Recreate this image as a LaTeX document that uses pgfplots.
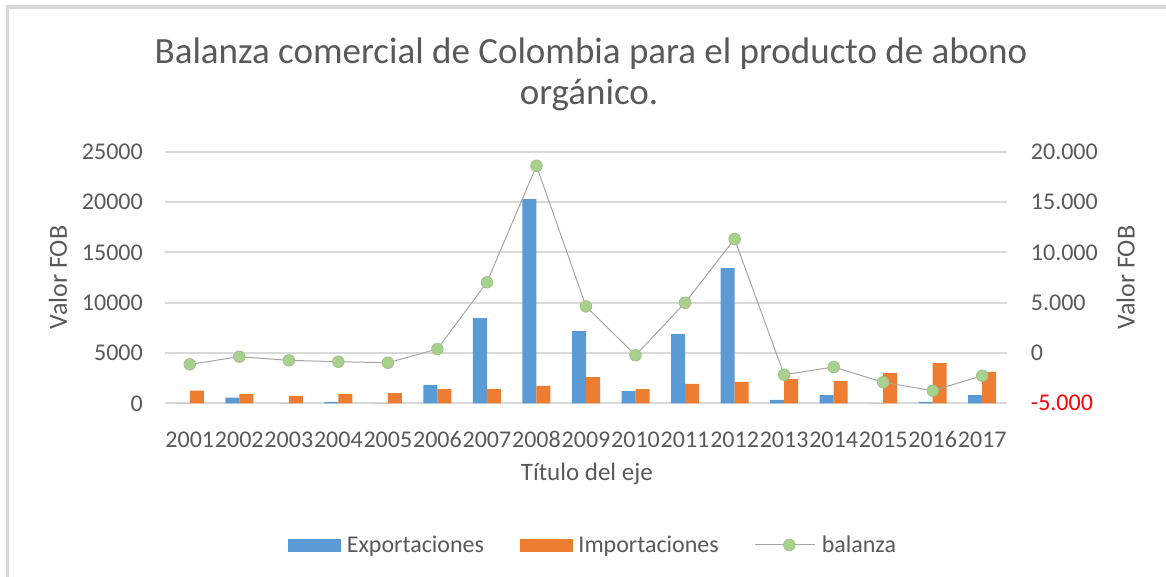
\documentclass[border=0pt]{standalone}
\usepackage{pgfplots}
\pgfplotsset{compat=1.18}
\usepackage{pgfplotstable}
\usepackage{fontspec}
\setmainfont{Carlito}

\definecolor{expc}{HTML}{5B9BD5}
\definecolor{impc}{HTML}{ED7D31}
\definecolor{balc}{HTML}{A9D18E}
\definecolor{balline}{HTML}{A5A5A5}
\definecolor{txt}{HTML}{595959}
\definecolor{gridc}{HTML}{D9D9D9}

% year index, exportaciones, importaciones, balanza
\pgfplotstableread{
idx exp imp bal
0 0 1250 -1130
1 560 920 -370
2 0 725 -730
3 130 920 -870
4 0 1020 -970
5 1820 1420 390
6 8470 1420 7020
7 20290 1720 18600
8 7180 2610 4630
9 1220 1420 -230
10 6880 1920 4990
11 13440 2120 11320
12 330 2420 -2160
13 820 2220 -1400
14 0 3010 -2910
15 130 4000 -3750
16 820 3110 -2260
}\datos

\pgfplotsset{
  base/.style={
    scale only axis, width=842pt, height=251.6pt,
    at={(165pt,173.7pt)}, anchor=south west,
    xmin=-0.5, xmax=16.5,
    scaled y ticks=false,
    axis line style={draw=none},
    tick style={draw=none},
    ticklabel style={font=\fontsize{24}{28}\selectfont, text=txt},
    label style={font=\fontsize{26}{30}\selectfont, text=txt},
  }
}

\begin{document}
\begin{tikzpicture}[x=1pt,y=1pt]
\path[use as bounding box] (0,0) rectangle (1166,577);
\draw[gridc, line width=3.5pt] (7.3,-10) -- (7.3,569.8) -- (1180,569.8);

\node[anchor=base, text=txt, font=\fontsize{37}{40}\selectfont] at (591,513.7) {Balanza comercial de Colombia para el producto de abono};
\node[anchor=base, text=txt, font=\fontsize{37}{40}\selectfont] at (589,472) {orgánico.};

\begin{axis}[base,
  ymin=0, ymax=25000,
  ybar=0pt, bar width=14pt,
  ymajorgrids, major grid style={gridc, line width=1.8pt},
  ytick={0,5000,10000,15000,20000,25000},
  yticklabels={0,5000,10000,15000,20000,25000},
  yticklabel style={anchor=east, inner sep=0pt, xshift=-22pt},
  xtick={0,...,16},
  xticklabels={2001,2002,2003,2004,2005,2006,2007,2008,2009,2010,2011,2012,2013,2014,2015,2016,2017},
  xticklabel style={anchor=north, inner sep=0pt, yshift=-23.7pt},
  xlabel={Título del eje},
  xlabel style={at={(rel axis cs:0.501,-0.3076)}, anchor=base, font=\fontsize{25}{30}\selectfont},
  ylabel={Valor FOB},
  ylabel style={at={(rel axis cs:-0.127,0.5)}, anchor=center},
]
\addplot[fill=expc, draw=none] table[x=idx, y=exp] {\datos};
\addplot[fill=impc, draw=none] table[x=idx, y=imp] {\datos};
\end{axis}

\begin{axis}[base,
  ymin=-5000, ymax=20000,
  hide x axis,
  clip=false,
  ytick={-5000,0,5000,10000,15000,20000},
  yticklabels={{\color{red}-5.000},0,5.000,10.000,15.000,20.000},
  yticklabel pos=right,
  yticklabel style={anchor=west, inner sep=0pt, xshift=23.7pt},
  ylabel={Valor FOB},
  ylabel style={at={(rel axis cs:1.141,0.5)}, anchor=center},
  legend style={at={(0.511,-0.563)}, anchor=center, draw=none, fill=none,
    legend columns=3,
    font=\fontsize{24}{28}\selectfont, text=txt,
    nodes={inner xsep=6pt},
    /tikz/every even column/.append style={column sep=30pt}},
  legend cell align=left,
]
\addlegendimage{legend image code/.code={\fill[expc] (0pt,-6pt) rectangle (52pt,6pt);}}
\addlegendentry{Exportaciones}
\addlegendimage{legend image code/.code={\fill[impc] (0pt,-6pt) rectangle (52pt,6pt);}}
\addlegendentry{Importaciones}
\addplot[balline, line width=1pt, mark=*, mark size=5.8pt,
  mark options={fill=balc, draw=balc!80!gray, line width=0.8pt},
  legend image code/.code={\path (0pt,0pt) -- (8pt,0pt);
    \draw[balline, line width=1pt] (8pt,0pt) -- (60pt,0pt);
    \draw[balc!80!gray, fill=balc, line width=0.8pt] (34pt,0pt) circle (5.8pt);}]
  table[x=idx, y=bal] {\datos};
\addlegendentry{balanza}
\end{axis}
\end{tikzpicture}
\end{document}
